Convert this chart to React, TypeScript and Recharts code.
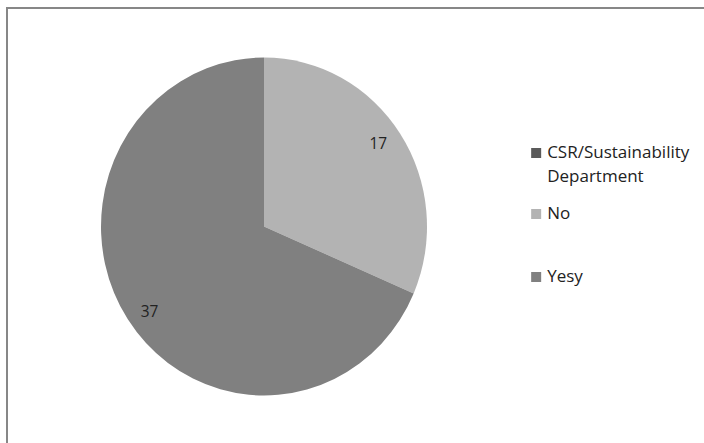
import React from 'react';
import { PieChart, Pie, Cell, Legend } from 'recharts';

const categories = ['CSR/Sustainability Department', 'No', 'Yesy'];
const values = [0, 17, 37];
const colors = ['#5a5a5a', '#b3b3b3', '#808080'];
const legendLines = [['CSR/Sustainability', 'Department'], ['No'], ['Yesy']];
const legendTops = [0, 61, 124];

const data = categories.map((name, i) => ({ name, value: values[i] }));

const SX = 163 / 169;
const CX = 264;

const RADIAN = Math.PI / 180;
const renderLabel = (props: any) => {
  const { cx, cy, midAngle, outerRadius, value } = props;
  if (!value) return null;
  const r = outerRadius * 0.86;
  const a = midAngle + 2;
  const x = cx + r * Math.cos(-a * RADIAN);
  const y = cy + r * Math.sin(-a * RADIAN);
  return (
    <text x={x} y={y} fill="#222" fontSize={16} fontFamily="'Open Sans', sans-serif" textAnchor="middle" dominantBaseline="central">
      {value}
    </text>
  );
};

const renderLegend = () => (
  <div style={{ position: 'relative', width: 175, height: 150, fontFamily: "'Open Sans', sans-serif", fontSize: 17, color: '#222', transform: `scaleX(${1 / SX})`, transformOrigin: '0 0' }}>
    {categories.map((c, i) => (
      <div key={c} style={{ position: 'absolute', left: 0, top: legendTops[i] }}>
        <div style={{ position: 'absolute', left: 0, top: 0, width: 10, height: 10, background: colors[i] }} />
        <div style={{ position: 'absolute', left: 16, top: -8, lineHeight: '24px', whiteSpace: 'nowrap' }}>
          {legendLines[i].map((l) => (
            <div key={l}>{l}</div>
          ))}
        </div>
      </div>
    ))}
  </div>
);

export default function App() {
  const legendLeft = CX + (531 - CX) / SX;
  return (
    <div style={{ position: 'absolute', left: 0, top: 0, width: 704, height: 443, overflow: 'hidden', background: '#fff' }}>
      <div style={{ position: 'absolute', left: 6, top: 7, width: 720, height: 460, border: '2px solid #878787', boxSizing: 'border-box' }} />
      <div style={{ position: 'absolute', left: 0, top: 0, transform: `scaleX(${SX})`, transformOrigin: `${CX}px 0` }}>
        <PieChart width={704} height={443} margin={{ top: 0, right: 0, bottom: 0, left: 0 }}>
          <Pie
            data={data}
            dataKey="value"
            nameKey="name"
            cx={CX}
            cy={226.5}
            outerRadius={169}
            startAngle={90}
            endAngle={-270}
            stroke="none"
            label={renderLabel}
            labelLine={false}
            isAnimationActive={false}
          >
            {data.map((d, i) => (
              <Cell key={d.name} fill={colors[i]} />
            ))}
          </Pie>
          <Legend content={renderLegend} wrapperStyle={{ left: legendLeft, top: 148, width: 190 }} />
        </PieChart>
      </div>
    </div>
  );
}
